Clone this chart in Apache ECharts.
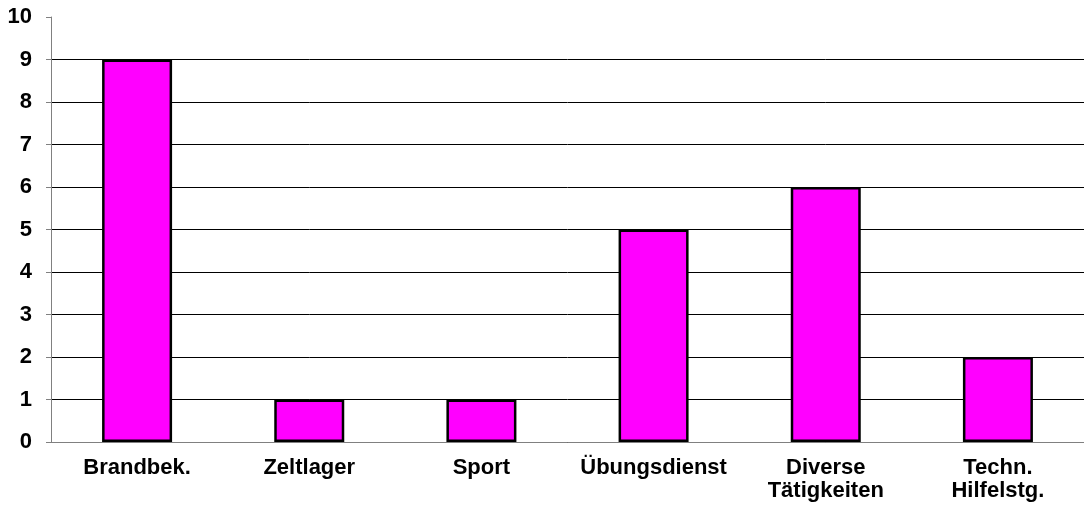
<!DOCTYPE html>
<html>
<head>
<meta charset="utf-8">
<script src="https://cdn.jsdelivr.net/npm/echarts@6/dist/echarts.min.js"></script>
<style>
  html, body { margin: 0; padding: 0; background: #fff; }
  #chart { width: 1084px; height: 510px; }
</style>
</head>
<body>
<div id="chart"></div>
<script>
// Einsätze nach Art
var categories = ['Brandbek.', 'Zeltlager', 'Sport', 'Übungsdienst', 'Diverse\nTätigkeiten', 'Techn.\nHilfelstg.'];
var values = [9, 1, 1, 5, 6, 2];
var yMin = 0, yMax = 10, yStep = 1;

var myChart = echarts.init(document.getElementById('chart'));

var labelFont = {
  color: '#000',
  fontFamily: 'Liberation Sans, Arial, sans-serif',
  fontWeight: 'bold',
  fontSize: 22
};

var option = {
  animation: false,
  grid: {
    left: 51,
    top: 17,
    width: 1044,
    bottom: 68
  },
  xAxis: {
    type: 'category',
    data: categories,
    axisLine: { lineStyle: { color: '#808080', width: 1 } },
    axisTick: { inside: true, length: 6, lineStyle: { color: '#808080' } },
    axisLabel: Object.assign({ margin: 14, lineHeight: 23, interval: 0 }, labelFont)
  },
  yAxis: {
    type: 'value',
    min: yMin,
    max: yMax,
    interval: yStep,
    axisLine: { show: true, lineStyle: { color: '#808080', width: 1 } },
    axisTick: { show: true, length: 5, lineStyle: { color: '#808080' } },
    axisLabel: Object.assign({ margin: 19 }, labelFont),
    splitLine: { show: true, showMaxLine: false, lineStyle: { color: '#000', width: 1 } }
  },
  series: [
    {
      type: 'bar',
      data: values,
      barWidth: 70,
      itemStyle: {
        color: '#FF00FF',
        borderColor: '#000',
        borderWidth: 2.5
      }
    }
  ]
};

myChart.setOption(option);
</script>
</body>
</html>
